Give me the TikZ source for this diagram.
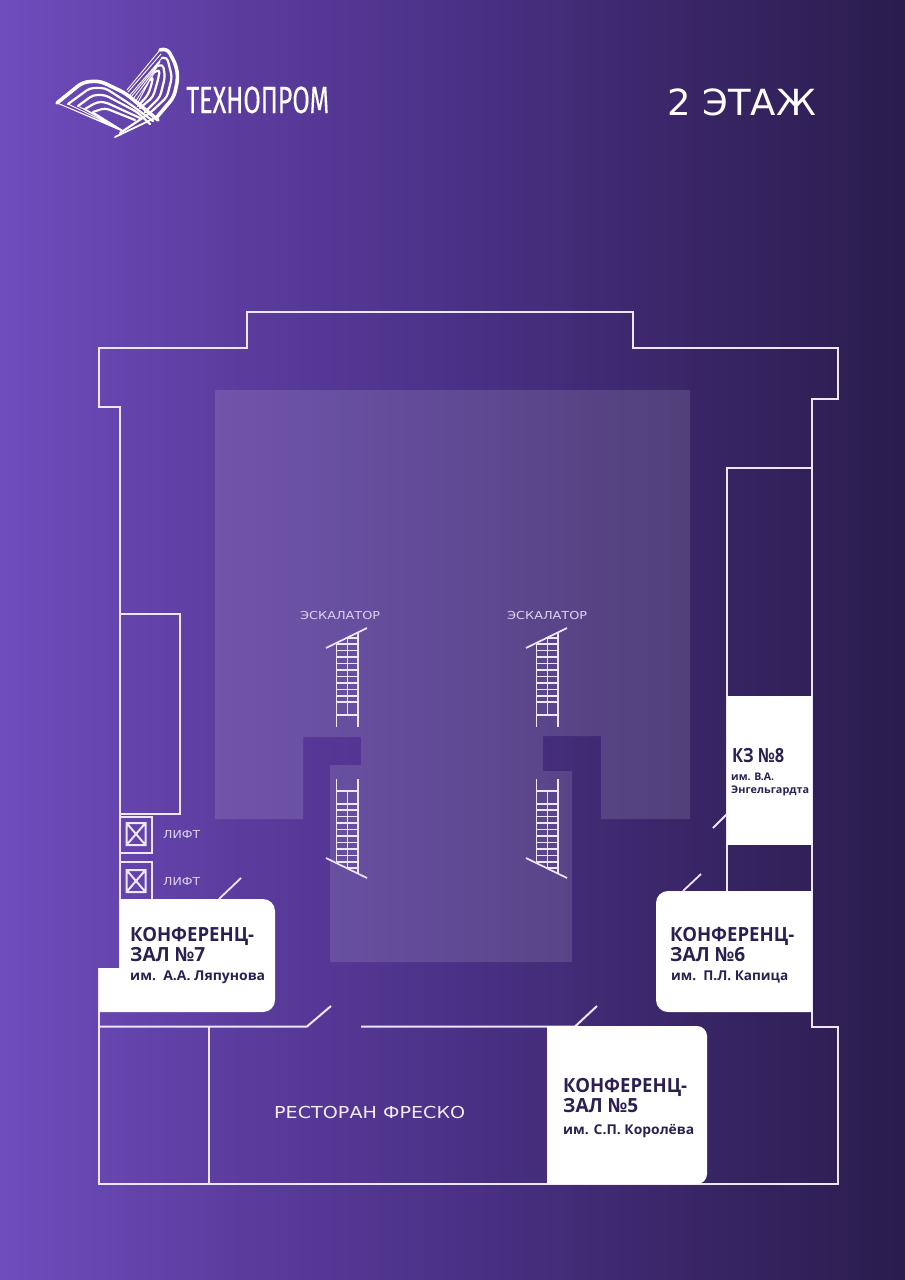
\documentclass[tikz,border=0pt]{standalone}
\usepackage{fontspec}
\setmainfont{DejaVu Sans}
\newfontfamily\hdfont{Open Sans}
\newfontfamily\logofont[FakeBold=0.2]{Fira Sans}
\definecolor{wall}{HTML}{EDE6F7}
\definecolor{ink}{HTML}{2C2052}
\definecolor{soft}{HTML}{DDD3EE}
\definecolor{bgA}{HTML}{6F4DBD}
\definecolor{bgB}{HTML}{5C3D9F}
\definecolor{bgC}{HTML}{4B3187}
\definecolor{bgD}{HTML}{3A2668}
\definecolor{bgE}{HTML}{2A1C4D}
\pgfdeclarehorizontalshading{bggrad}{100bp}{
  color(0bp)=(bgA); color(25bp)=(bgA); color(37.5bp)=(bgB); color(50bp)=(bgC); color(62.5bp)=(bgD); color(75bp)=(bgE); color(100bp)=(bgE)}
% text fitted to a measured width, height untouched
\newcommand\fitw[2]{\resizebox{#1pt}{\height}{#2}}
\tikzset{
  x=1pt,y=-1pt,
  wallline/.style={draw=wall,line width=2pt,line join=miter},
  thinline/.style={draw=wall,line width=1.8pt},
  room/.style={fill=white},
  darklabel/.style={text=ink,inner sep=0pt,anchor=base west},
  softlabel/.style={text=soft,inner sep=0pt,anchor=base west},
  whitelabel/.style={text=white,inner sep=0pt,anchor=base west},
  logoa/.style={draw=white,line width=3.6pt,line cap=round,line join=round,rounded corners=6pt},
  logob/.style={draw=white,line width=2.2pt,line cap=round,line join=round,rounded corners=4pt},
  logoc/.style={draw=white,line width=.9pt,line cap=round,line join=round,rounded corners=3pt},
  escalatorbit/.pic={
    \draw[thinline,line width=1.7pt] (-10.5,-58) -- (-10.5,25) (11,-69) -- (11,25) (0.5,-64) -- (0.5,13);
    \foreach \yy in {-58,-51.5,-45,-38.5,-32,-25.5,-19,-12.5,-6,0,13} \draw[thinline,line width=1.5pt] (-10.5,\yy) -- (11,\yy);
    \draw[thinline,line width=1.5pt] (0.5,-64) -- (11,-64);
    \draw[thinline,line width=1.7pt] (-21,-54) -- (20,-74);
  }
}
\begin{document}
\begin{tikzpicture}
\useasboundingbox (0,0) rectangle (905,1280);
\shade[shading=bggrad] (0,0) rectangle (905,1280);
% atrium
\fill[white,opacity=.12] (215,390) -- (690,390) -- (690,819) -- (601,819) -- (601,736) -- (543,736) -- (543,771) -- (572,771) -- (572,962) -- (330,962) -- (330,765) -- (361,765) -- (361,737) -- (303,737) -- (303,819) -- (215,819) -- cycle;
% outer walls
\draw[wallline] (119.5,968) -- (119.5,407) -- (99,407) -- (99,347.5) -- (246.5,347.5) -- (246.5,311.5) -- (632.5,311.5) -- (632.5,347.5) -- (838,347.5) -- (838,399) -- (812,399) -- (812,1026.5) -- (838,1026.5) -- (838,1184) -- (99,1184) -- (99,968);
\draw[wallline] (99,1026.5) -- (307,1026.5) -- (331,1006);
\coordinate (doorR) at (575,1026.5);
\draw[wallline] (361,1026.5) -- (doorR) -- (597,1006);
\draw[wallline] (209,1026.5) -- (209,1184);
% side rooms
\draw[wallline] (119.5,614) rectangle (180,814);
\draw[wallline] (727,891) -- (727,468) -- (812,468);
\draw[wallline] (120,853) -- (152,853) -- (152,817) -- (120,817);
\draw[wallline] (120,899) -- (120,862) -- (152,862) -- (152,899);
\draw[wallline] (126.5,823) rectangle (145.5,845) (126.5,823) -- (145.5,845) (145.5,823) -- (126.5,845);
\draw[wallline] (126.5,870) rectangle (145.5,892) (126.5,870) -- (145.5,892) (145.5,870) -- (126.5,892);
\draw[thinline] (219,899) -- (241,878);
\draw[thinline] (713,828) -- (727,814);
\draw[thinline] (683,891) -- (701,874);
% white rooms
\fill[room] (119.5,899) -- (263,899) to[out=0,in=90] (275,911) -- (275,1000) to[out=-90,in=0] (263,1012) -- (99,1012) -- (99,968) -- (119.5,968) -- cycle;
\fill[room] (668,891) -- (812,891) -- (812,1012) -- (668,1012) to[out=180,in=-90] (656,1000) -- (656,903) to[out=90,in=180] (668,891) -- cycle;
\fill[room] (727,696) rectangle (812,845);
\fill[room] (547,1026) -- (697,1026) to[out=0,in=90] (707,1036) -- (707,1174) to[out=-90,in=0] (697,1184) -- (547,1184) -- cycle;
% escalators
\pic at (347,702) {escalatorbit};
\pic at (547,702) {escalatorbit};
\pic[yscale=-1] at (347,804) {escalatorbit};
\pic[yscale=-1] at (547,804) {escalatorbit};
% logo: left wing
\draw[logoa] (57,103) -- (83,82) -- (100,81) -- (125,93) -- (158,120);
\draw[logob] (68,104) -- (90,88) -- (105,88) -- (130,104) -- (153,121);
\draw[logob] (78,106) -- (93,95) -- (105,95) -- (137,112) -- (150,124);
\draw[logob] (85,109) -- (97,102) -- (105,102) -- (140,118);
\draw[logob] (93,112) -- (105,108) -- (135,120);
\draw[logoc] (57,103) -- (122,130) (62,105) -- (122,131) (68,104) -- (122,130) (78,106) -- (122,130) (85,109) -- (122,130) (93,112) -- (122,130);
% logo: right wing
\draw[logoa] (160,50) -- (167,48) -- (176,65) -- (178,78) -- (174,97) -- (157,117);
\draw[logoa,line width=1.8pt] (157,117) -- (115,137);
\draw[logob] (162,58) -- (167,57) -- (172,77) -- (167,97) -- (150,113) -- (120,133);
\draw[logob] (158,66) -- (163,64) -- (165,77) -- (160,97) -- (145,112);
\draw[logob] (155,72) -- (160,69) -- (158,80) -- (153,97) -- (140,108);
\draw[logob] (150,80) -- (153,76) -- (152,83) -- (148,95) -- (138,106);
\draw[logoc] (127,90) -- (160,50) (130,95) -- (162,58) (133,99) -- (158,66) (135,102) -- (155,72) (137,104) -- (150,80) (128,92) -- (161,54) (131,97) -- (160,62);
\node[whitelabel] (brand) at (186,113) {\fitw{143}{\logofont\fontsize{38}{38}\selectfont ТЕХНОПРОМ}};
\node[whitelabel] (floor) at (667,115) {\fitw{149}{\fontsize{36}{36}\selectfont 2 ЭТАЖ}};
\node[softlabel] (esc1) at (300,619.5) {\fitw{80}{\fontsize{11}{11}\selectfont ЭСКАЛАТОР}};
\node[softlabel] (esc2) at (507,619.5) {\fitw{80}{\fontsize{11}{11}\selectfont ЭСКАЛАТОР}};
\node[softlabel] (lift1) at (163,838.5) {\fitw{37}{\fontsize{11}{11}\selectfont ЛИФТ}};
\node[softlabel] (lift2) at (163,885) {\fitw{37}{\fontsize{11}{11}\selectfont ЛИФТ}};
\node[text=white!92!violet,inner sep=0pt,anchor=base west] (rest) at (274,1118) {\fitw{191}{\fontsize{16.5}{16.5}\selectfont РЕСТОРАН ФРЕСКО}};
\newcommand\hd[1]{\hdfont\bfseries\fontsize{19.5}{19.5}\selectfont #1}
\newcommand\sm[1]{\hdfont\bfseries\fontsize{13.5}{13.5}\selectfont #1}
\node[darklabel] (a1) at (130,941) {\fitw{124}{\hd{КОНФЕРЕНЦ-}}};
\node[darklabel] (a2) at (130,961) {\fitw{75}{\hd{ЗАЛ №7}}};
\node[darklabel] (a3) at (130,980) {\fitw{135}{\sm{им.\ \ А.А. Ляпунова}}};
\node[darklabel] (b1) at (670,941) {\fitw{124}{\hd{КОНФЕРЕНЦ-}}};
\node[darklabel] (b2) at (670,961) {\fitw{75}{\hd{ЗАЛ №6}}};
\node[darklabel] (b3) at (671,980) {\fitw{117}{\sm{им.\ \ П.Л. Капица}}};
\node[darklabel] (c1) at (563,1092) {\fitw{124}{\hd{КОНФЕРЕНЦ-}}};
\node[darklabel] (c2) at (563,1112) {\fitw{75}{\hd{ЗАЛ №5}}};
\node[darklabel] (c3) at (563,1134) {\fitw{131}{\sm{им. С.П. Королёва}}};
\node[darklabel] (d1) at (732,762) {\fitw{52}{\hd{КЗ №8}}};
\node[darklabel] (d2) at (731,780) {\fitw{43}{\hdfont\bfseries\fontsize{10.5}{10.5}\selectfont им. В.А.}};
\node[darklabel] (d3) at (731,793) {\fitw{78}{\hdfont\bfseries\fontsize{10.5}{10.5}\selectfont Энгельгардта}};
\end{tikzpicture}
\end{document}
